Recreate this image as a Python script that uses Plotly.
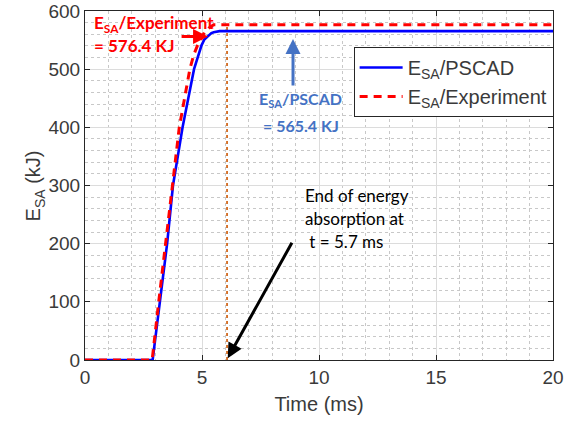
import plotly.graph_objects as go

# PSCAD simulated energy (kJ) vs time (ms)
t_pscad = [0, 2.89, 3.20, 3.51, 3.76, 4.17, 4.66, 4.98, 5.1, 5.27, 5.4, 5.5, 5.75, 20]
e_pscad = [0, 0, 100, 200, 300, 400, 500, 541, 551, 558, 562, 563.5, 565.4, 565.4]

# Experimental energy (kJ) vs time (ms)
t_exp = [0, 2.87, 3.15, 3.45, 3.72, 4.03, 4.48, 4.65, 4.8, 4.95, 5.1, 5.3, 5.5, 20]
e_exp = [0, 0, 100, 200, 300, 400, 500, 525, 540, 553, 563, 571, 576.4, 576.4]

t_end = [6.07, 6.07]
e_end = [0, 576.4]

x_ticks = [0, 5, 10, 15, 20]
y_ticks = [0, 100, 200, 300, 400, 500, 600]

TXT = "#3a3a3a"
fig = go.Figure()
fig.add_trace(go.Scatter(x=t_end, y=e_end, mode="lines", showlegend=False,
                         line=dict(color="#D2691E", width=1.8, dash="3px,3px")))
fig.add_trace(go.Scatter(x=t_pscad, y=e_pscad, mode="lines", name="E<sub>SA</sub>/PSCAD",
                         line=dict(color="#0000FF", width=2.6)))
fig.add_trace(go.Scatter(x=t_exp, y=e_exp, mode="lines", name="E<sub>SA</sub>/Experiment",
                         line=dict(color="#FF0000", width=3, dash="8px,6px")))

ann_font = "Lato, Calibri, Carlito, sans-serif"


def text_ann(x, y, text, color, size, anchor="left", bold=False):
    t = f"<b>{text}</b>" if bold else text
    fig.add_annotation(x=x, y=y, xref="x", yref="y", xanchor=anchor, yanchor="middle",
                       text=t, showarrow=False, font=dict(family=ann_font, size=size, color=color))


# red label + arrow
fig.add_annotation(x=5.26, y=556, ax=-28, ay=0, xref="x", yref="y", text="",
                   showarrow=True, arrowhead=2, arrowsize=1, arrowwidth=3, arrowcolor="#FF0000")
text_ann(0.28, 578, "E<sub>SA</sub>/Experiment", "#FF0000", 17, bold=True)
text_ann(0.28, 540, "= 576.4 KJ", "#FF0000", 17, bold=True)

# blue label + arrow
fig.add_annotation(x=8.89, y=552, ax=0, ay=48, xref="x", yref="y", text="",
                   showarrow=True, arrowhead=2, arrowsize=1, arrowwidth=3, arrowcolor="#4472C4")
text_ann(9.22, 448, "E<sub>SA</sub>/PSCAD", "#4472C4", 16, anchor="center", bold=True)
text_ann(9.22, 403, "= 565.4 KJ", "#4472C4", 16, anchor="center", bold=True)

# black label + arrow
fig.add_annotation(x=6.1, y=3, ax=65, ay=-117, xref="x", yref="y", text="",
                   showarrow=True, arrowhead=2, arrowsize=1, arrowwidth=3, arrowcolor="#000000")
text_ann(9.3, 282, "End of energy", "#000000", 17)
text_ann(9.3, 244, "absorption at", "#000000", 17)
text_ann(9.3, 203, " t = 5.7 ms", "#000000", 17)

# y-axis title placed as rotated annotation
fig.add_annotation(x=-0.138, y=0.5, xref="paper", yref="paper", textangle=-90,
                   text="E<sub>SA</sub> (kJ)", showarrow=False,
                   font=dict(family="Liberation Sans, Arial", size=20, color=TXT))

axis_common = dict(showline=True, linecolor="#262626", linewidth=1, mirror="ticks",
                   ticks="inside", ticklen=5, tickcolor="#262626", automargin=False,
                   showgrid=True, gridcolor="#dcdcdc", gridwidth=1, zeroline=False,
                   tickfont=dict(family="Liberation Sans, Arial, sans-serif", size=19, color=TXT))
fig.update_xaxes(range=[0, 20], tickvals=x_ticks,
                 title=dict(text="Time (ms)", font=dict(family="Liberation Sans, Arial", size=20, color=TXT), standoff=10),
                 minor=dict(dtick=1, showgrid=True, gridcolor="#c8c8c8", griddash="dot", gridwidth=1),
                 **axis_common)
fig.update_yaxes(range=[0, 600], tickvals=y_ticks,
                 minor=dict(dtick=20, showgrid=True, gridcolor="#c8c8c8", griddash="dot", gridwidth=1),
                 **axis_common)

fig.update_layout(width=565, height=423, margin=dict(l=85, r=12, t=11, b=63),
                  paper_bgcolor="white", plot_bgcolor="white",
                  legend=dict(x=0.574, y=0.897, xanchor="left", yanchor="top",
                              bgcolor="white", bordercolor="#262626", borderwidth=1,
                              itemwidth=43,
                              font=dict(family="Liberation Sans, Arial", size=20, color=TXT),
                              tracegroupgap=0))
fig.write_html("out.html", config={"displayModeBar": False},
               post_script="document.body.style.margin='0';")
